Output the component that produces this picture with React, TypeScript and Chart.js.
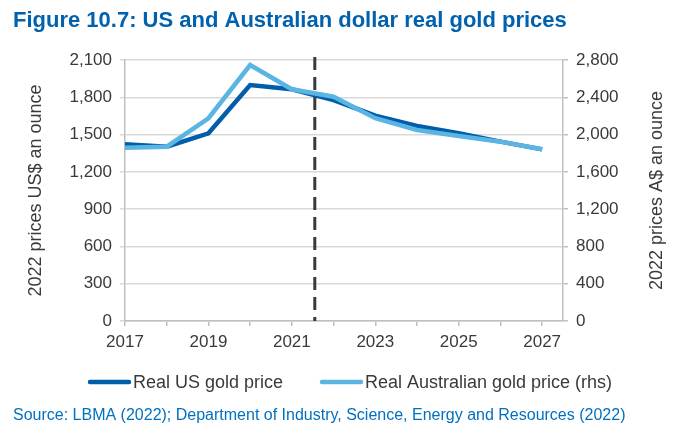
import React, { useEffect, useRef } from "react";
import { Chart, registerables } from "chart.js";

Chart.register(...registerables);

const years = [2017, 2018, 2019, 2020, 2021, 2022, 2023, 2024, 2025, 2026, 2027];
const usPrice = [1422, 1402, 1510, 1898, 1864, 1778, 1652, 1569, 1510, 1443, 1381];
const audPrice = [1859, 1870, 2175, 2746, 2486, 2406, 2175, 2049, 1985, 1924, 1842];
const leftTicks = [0, 300, 600, 900, 1200, 1500, 1800, 2100];
const rightTicks = [0, 400, 800, 1200, 1600, 2000, 2400, 2800];
const forecastStart = 2021.55;

const titleText = "Figure 10.7: US and Australian dollar real gold prices";
const sourceText = "Source: LBMA (2022); Department of Industry, Science, Energy and Resources (2022)";
const leftTitle = "2022 prices US$ an ounce";
const rightTitle = "2022 prices A$ an ounce";
const usLabel = "Real US gold price";
const audLabel = "Real Australian gold price (rhs)";

const US_COLOR = "#005EAB";
const AUD_COLOR = "#5BB5E3";
const TEXT = "#3A3A3A";
const FONT = "'Liberation Sans', Arial, sans-serif";

const decor = {
  id: "decor",
  afterDatasetsDraw(chart: any) {
    const { ctx, chartArea, scales } = chart;
    ctx.save();
    const x = scales.x.getPixelForValue(forecastStart);
    ctx.strokeStyle = "#3A3A3A";
    ctx.lineWidth = 3;
    ctx.setLineDash([13, 7]);
    ctx.beginPath();
    ctx.moveTo(x, chartArea.top - 3);
    ctx.lineTo(x, chartArea.bottom);
    ctx.stroke();
    ctx.setLineDash([]);
    ctx.restore();
  },
  afterDraw(chart: any) {
    const { ctx, chartArea } = chart;
    ctx.save();
    // title
    ctx.fillStyle = "#0062AE";
    ctx.font = `bold 22px ${FONT}`;
    ctx.textBaseline = "alphabetic";
    ctx.textAlign = "left";
    ctx.fillText(titleText, 13, 27);
    // axis titles
    ctx.fillStyle = TEXT;
    ctx.font = `18px ${FONT}`;
    ctx.textAlign = "center";
    ctx.textBaseline = "middle";
    const cy = (chartArea.top + chartArea.bottom) / 2;
    ctx.save();
    ctx.translate(36, cy);
    ctx.rotate(-Math.PI / 2);
    ctx.fillText(leftTitle, 0, 0);
    ctx.restore();
    ctx.save();
    ctx.translate(657, cy);
    ctx.rotate(-Math.PI / 2);
    ctx.fillText(rightTitle, 0, 0);
    ctx.restore();
    // legend
    ctx.lineWidth = 4.5;
    ctx.lineCap = "round";
    ctx.textAlign = "left";
    ctx.textBaseline = "middle";
    const ly = 382;
    ctx.strokeStyle = US_COLOR;
    ctx.beginPath();
    ctx.moveTo(90, ly);
    ctx.lineTo(129, ly);
    ctx.stroke();
    ctx.fillText(usLabel, 133, ly + 1);
    ctx.strokeStyle = AUD_COLOR;
    ctx.beginPath();
    ctx.moveTo(322, ly);
    ctx.lineTo(361, ly);
    ctx.stroke();
    ctx.fillText(audLabel, 365, ly + 1);
    // source
    ctx.fillStyle = "#0070C0";
    ctx.font = `16px ${FONT}`;
    ctx.fillText(sourceText, 13, 416);
    ctx.restore();
  },
};

export default function App() {
  const ref = useRef<HTMLCanvasElement | null>(null);
  useEffect(() => {
    document.body.style.margin = "0";
    if (!ref.current) return;
    const chart = new Chart(ref.current, {
      type: "line",
      data: {
        datasets: [
          {
            label: usLabel,
            data: years.map((y, i) => ({ x: y, y: usPrice[i] })),
            borderColor: US_COLOR,
            backgroundColor: US_COLOR,
            borderWidth: 4.5,
            pointRadius: 0,
            yAxisID: "y",
            order: 2,
          },
          {
            label: audLabel,
            data: years.map((y, i) => ({ x: y, y: audPrice[i] })),
            borderColor: AUD_COLOR,
            backgroundColor: AUD_COLOR,
            borderWidth: 4.5,
            pointRadius: 0,
            yAxisID: "y1",
            order: 1,
          },
        ],
      },
      options: {
        animation: false,
        responsive: true,
        maintainAspectRatio: false,
        layout: { padding: { top: 60, left: 0, right: 0, bottom: 0 } },
        plugins: { legend: { display: false }, tooltip: { enabled: false }, title: { display: false } },
        scales: {
          x: {
            type: "linear",
            min: years[0],
            max: years[years.length - 1] + 0.5,
            afterFit: (s: any) => { s.height = 119; },
            afterBuildTicks: (s: any) => { s.ticks = years.map((v) => ({ value: v })); },
            ticks: {
              stepSize: 1,
              autoSkip: false,
              maxRotation: 0,
              padding: 6,
              color: TEXT,
              font: { family: FONT, size: 17 },
              callback: (v: any) => (Number(v) % 2 === 1 ? String(v) : ""),
            },
            grid: { drawOnChartArea: false, drawTicks: true, tickLength: 5, color: "#BFBFBF", lineWidth: 1.5 },
            border: { color: "#BFBFBF", width: 1.5 },
          },
          y: {
            position: "left",
            min: 0,
            max: 2100,
            afterFit: (s: any) => { s.width = 125; },
            afterBuildTicks: (s: any) => { s.ticks = leftTicks.map((v) => ({ value: v })); },
            ticks: {
              padding: 8,
              color: TEXT,
              font: { family: FONT, size: 17 },
              callback: (v: any) => Number(v).toLocaleString("en-US"),
            },
            grid: { color: "#D9D9D9", lineWidth: 1.5, tickLength: 5 },
            border: { color: "#BFBFBF", width: 1.5 },
          },
          y1: {
            position: "right",
            min: 0,
            max: 2800,
            afterFit: (s: any) => { s.width = 122; },
            afterBuildTicks: (s: any) => { s.ticks = rightTicks.map((v) => ({ value: v })); },
            ticks: {
              padding: 8,
              color: TEXT,
              font: { family: FONT, size: 17 },
              callback: (v: any) => Number(v).toLocaleString("en-US"),
            },
            grid: { drawOnChartArea: false, color: "#BFBFBF", lineWidth: 1.5, tickLength: 5 },
            border: { color: "#BFBFBF", width: 1.5 },
          },
        },
      },
      plugins: [decor],
    });
    return () => chart.destroy();
  }, []);
  return (
    <div style={{ position: "absolute", left: 0, top: 0, width: 685, height: 440 }}>
      <canvas ref={ref} />
    </div>
  );
}
